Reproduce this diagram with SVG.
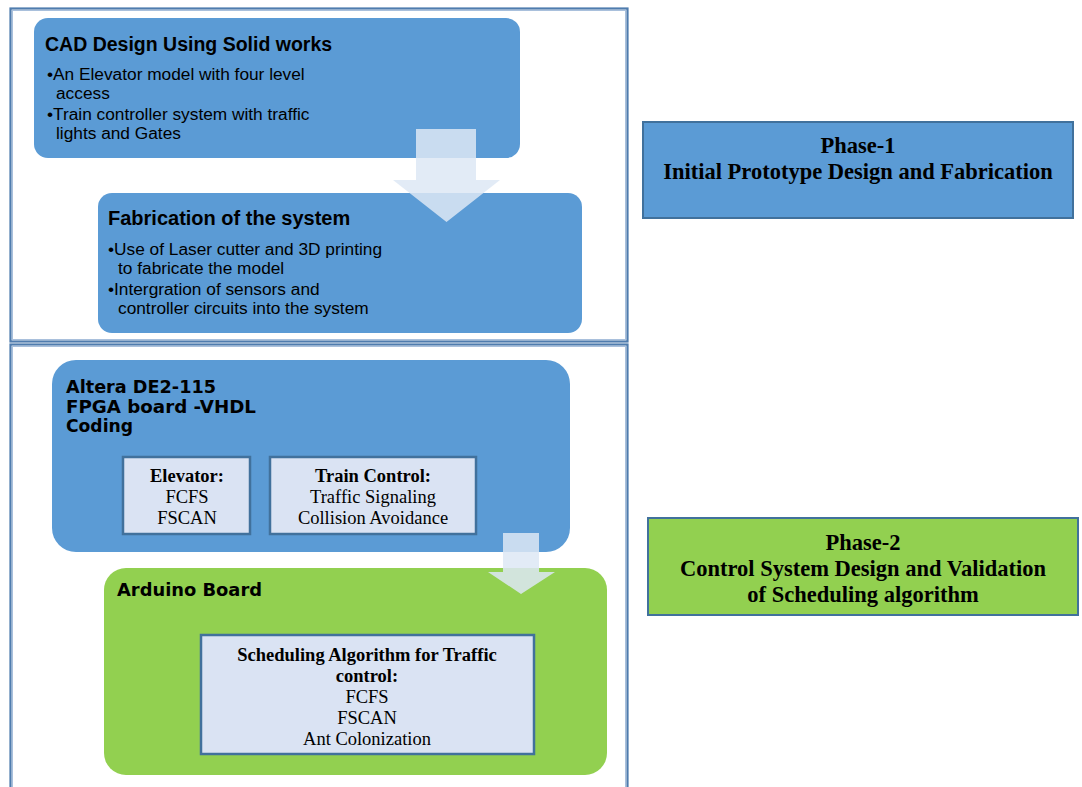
<svg xmlns="http://www.w3.org/2000/svg" width="1082" height="787" viewBox="0 0 1082 787">
<style>
.frame{fill:#ffffff;stroke:#4f7cae;stroke-width:2.2}
.frameIn{fill:none;stroke:#a9c0dc;stroke-width:1}
.blue{fill:#5b9bd5}
.green{fill:#92d050}
.inner{fill:#dae3f3;stroke:#41719c;stroke-width:2.5}
.phase1{fill:#5b9bd5;stroke:#41719c;stroke-width:2}
.phase2{fill:#92d050;stroke:#41719c;stroke-width:2}
.arrow{fill:#dde7f4;fill-opacity:0.85}
.cal{font-family:"Liberation Sans","Open Sans",sans-serif;fill:#000}
.calt{font-family:"Liberation Sans","Open Sans",sans-serif;font-weight:bold;fill:#000}
.ver{font-family:"DejaVu Sans",Verdana,sans-serif;font-weight:bold;fill:#000;font-size:17px}
.tnr{font-family:"Liberation Serif","Times New Roman",serif;fill:#000;text-anchor:middle;font-size:18.5px}
.tnrb{font-family:"Liberation Serif","Times New Roman",serif;fill:#000;text-anchor:middle;font-weight:bold}
.bul{font-size:17.3px}
</style>
<g id="frame1"><rect class="frame" x="10.5" y="8.5" width="617" height="333"/><rect class="frameIn" x="12.5" y="10.5" width="613" height="329"/></g>
<g id="frame2"><rect class="frame" x="10.5" y="344.5" width="617" height="446"/><rect class="frameIn" x="12.5" y="346.5" width="613" height="446"/></g>

<g id="cad">
<rect class="blue" x="34" y="18" width="486" height="140" rx="14"/>
<text class="calt" x="45" y="51" font-size="19.5">CAD Design Using Solid works</text>
<text class="cal bul" x="47" y="80">•An Elevator model with four level</text>
<text class="cal bul" x="56" y="99">access</text>
<text class="cal bul" x="47" y="120">•Train controller system with traffic</text>
<text class="cal bul" x="56" y="139">lights and Gates</text>
</g>

<g id="fab">
<rect class="blue" x="98" y="193" width="484" height="140" rx="14"/>
<text class="calt" x="108" y="225" font-size="20">Fabrication of the system</text>
<text class="cal bul" x="108" y="255">•Use of Laser cutter and 3D printing</text>
<text class="cal bul" x="118" y="274">to fabricate the model</text>
<text class="cal bul" x="108" y="295">•Intergration of sensors and</text>
<text class="cal bul" x="118" y="314">controller circuits into the system</text>
</g>

<g id="phase1">
<rect class="phase1" x="643" y="122" width="430" height="96"/>
<text class="tnrb" x="858" y="153" font-size="22.5">Phase-1</text>
<text class="tnrb" x="858" y="179" font-size="22.5">Initial Prototype Design and Fabrication</text>
</g>

<g id="altera">
<rect class="blue" x="52" y="360" width="518" height="192" rx="24"/>
<text class="ver" x="66" y="393" textLength="150" lengthAdjust="spacingAndGlyphs">Altera DE2-115</text>
<text class="ver" x="66" y="413" textLength="190" lengthAdjust="spacingAndGlyphs">FPGA board  -VHDL</text>
<text class="ver" x="66" y="432" textLength="67" lengthAdjust="spacingAndGlyphs">Coding</text>
</g>

<g id="elevator">
<rect class="inner" x="123" y="457" width="127" height="77"/>
<text class="tnrb" x="187" y="482" font-size="18.5">Elevator:</text>
<text class="tnr" x="187" y="503">FCFS</text>
<text class="tnr" x="187" y="524">FSCAN</text>
</g>

<g id="train">
<rect class="inner" x="270" y="457" width="206" height="77"/>
<text class="tnrb" x="373" y="482" font-size="18.5">Train Control:</text>
<text class="tnr" x="373" y="503">Traffic Signaling</text>
<text class="tnr" x="373" y="524">Collision Avoidance</text>
</g>

<g id="arduino">
<rect class="green" x="104" y="568" width="503" height="207" rx="22"/>
<text class="ver" x="117" y="596" textLength="145" lengthAdjust="spacingAndGlyphs">Arduino  Board</text>
</g>

<g id="scheduling">
<rect class="inner" x="201" y="635" width="333" height="119"/>
<text class="tnrb" x="367" y="661" font-size="18.5">Scheduling Algorithm for Traffic</text>
<text class="tnrb" x="367" y="682" font-size="18.5">control:</text>
<text class="tnr" x="367" y="703">FCFS</text>
<text class="tnr" x="367" y="724">FSCAN</text>
<text class="tnr" x="367" y="745">Ant Colonization</text>
</g>

<g id="phase2">
<rect class="phase2" x="648" y="518" width="430" height="97"/>
<text class="tnrb" x="863" y="550" font-size="22.5">Phase-2</text>
<text class="tnrb" x="863" y="576" font-size="22.5">Control System Design and Validation</text>
<text class="tnrb" x="863" y="602" font-size="22.5">of Scheduling algorithm</text>
</g>

<g id="connectors">
<path class="arrow" d="M416 129 H476 V180 H500 L446.5 222 L393 180 H416 Z"/>
<path class="arrow" d="M503 533 H539 V572 H555 L521 594 L488 572 H503 Z"/>
</g>
</svg>
